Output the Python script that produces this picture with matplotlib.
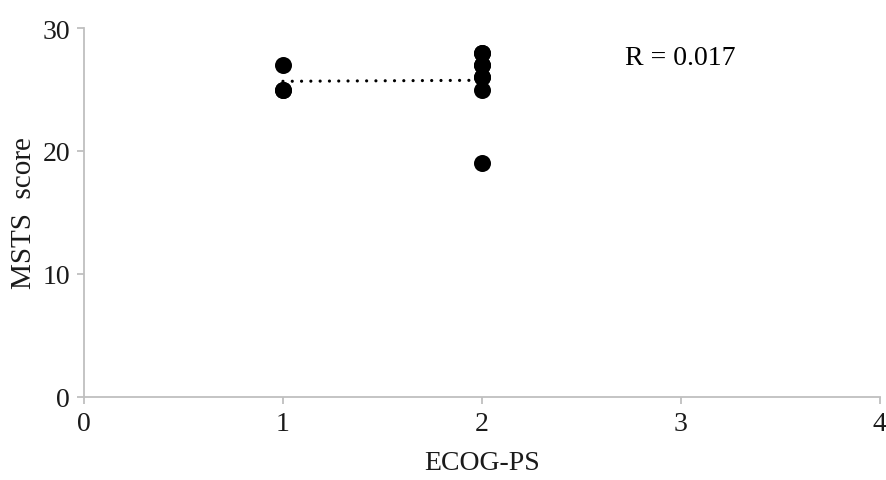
import numpy as np
import matplotlib.pyplot as plt

plt.rcParams['font.family'] = ['Liberation Serif', 'DejaVu Serif']

# ECOG-PS vs MSTS score (overlapping points share a position)
ecog = [1, 1, 1, 2, 2, 2, 2, 2, 2, 2, 2]
msts = [27, 25, 25, 28, 27, 26, 25, 19, 27, 26, 28]
r_label = 'R = 0.017'

fig = plt.figure(figsize=(8.86, 4.81), dpi=100)
ax = fig.add_axes([0.0948, 0.1726, 0.8982, 0.7671])

x = np.array(ecog, dtype=float)
y = np.array(msts, dtype=float)
slope, icpt = np.polyfit(x, y, 1)
xs = np.array([x.min(), x.max()])
ax.plot(xs, slope * xs + icpt, color='black', lw=2.3,
        linestyle=(0, (0.01, 2.9)), dash_capstyle='round', zorder=2)
ax.scatter(x, y, s=150, color='black', zorder=3, linewidths=0)

ax.text(2.72, 27.6, r_label, fontsize=20, va='center', ha='left')

ax.set_xlim(0, 4)
ax.set_ylim(0, 30)
ax.set_xticks([0, 1, 2, 3, 4])
ax.set_yticks([0, 10, 20, 30])
for s in ['top', 'right']:
    ax.spines[s].set_visible(False)
for s in ['left', 'bottom']:
    ax.spines[s].set_color('#bfbfbf')
    ax.spines[s].set_linewidth(1.3)
ax.tick_params(direction='out', length=5, width=1.3, color='#bfbfbf',
               labelsize=20, pad=5, labelcolor='#1a1a1a')
ax.set_xlabel('ECOG-PS', fontsize=20, labelpad=10, color='#1a1a1a')
ax.set_ylabel('MSTS  score', fontsize=21, labelpad=4, color='#1a1a1a')

fig.savefig('out.png', dpi=100)
